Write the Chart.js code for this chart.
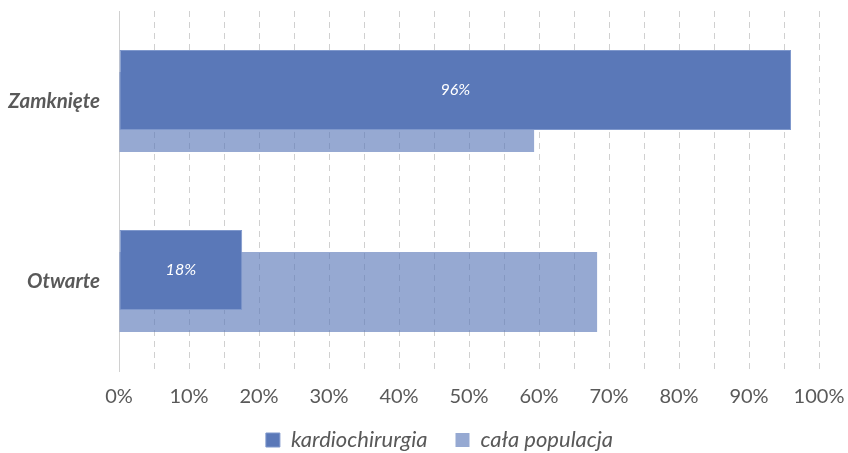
<!DOCTYPE html>
<html>
<head>
<meta charset="utf-8">
<script src="https://cdn.jsdelivr.net/npm/chart.js@4/dist/chart.umd.min.js"></script>
<style>
	html, body { margin: 0; padding: 0; background: #fff; }
	#wrap { width: 848px; height: 453px; }
</style>
</head>
<body>
<div id="wrap"><canvas id="chart" width="848" height="453"></canvas></div>
<script>
// dane
const categories = ['Zamknięte', 'Otwarte'];
const kardiochirurgia = [96, 17.6];
const calaPopulacja = [59.3, 68.3];
const seriesNames = ['kardiochirurgia', 'cała populacja'];
const tickLabels = ['0%', '10%', '20%', '30%', '40%', '50%', '60%', '70%', '80%', '90%', '100%'];

const grey = '#595959';

// etykiety w środku ciemnych słupków
const barLabels = {
	id: 'barLabels',
	afterDatasetsDraw(chart) {
		const ctx = chart.ctx;
		const meta = chart.getDatasetMeta(0);
		ctx.save();
		ctx.fillStyle = '#ffffff';
		ctx.font = 'italic 16px Lato';
		ctx.textAlign = 'center';
		ctx.textBaseline = 'middle';
		meta.data.forEach((bar, i) => {
			ctx.fillText(Math.round(kardiochirurgia[i]) + '%', (bar.x + bar.base) / 2, bar.y);
		});
		ctx.restore();
	}
};

// przesunięcie legendy (większy odstęp między pozycjami)
const legendShift = {
	id: 'legendShift',
	afterLayout(chart) {
		const lg = chart.legend;
		if (!lg) { return; }
		lg.left += 30; lg.right += 30;
		lg.top -= 10;
	}
};

new Chart(document.getElementById('chart'), {
	type: 'bar',
	data: {
		labels: categories,
		datasets: [
			{
				label: seriesNames[0],
				data: kardiochirurgia,
				backgroundColor: '#5A78B8',
				borderColor: '#7F98CC',
				borderWidth: 1,
				borderSkipped: false,
			},
			{
				label: seriesNames[1],
				data: calaPopulacja,
				backgroundColor: 'rgba(90,120,184,0.64)',
				borderWidth: 0,
			},
		],
	},
	options: {
		indexAxis: 'y',
		responsive: false,
		animation: false,
		categoryPercentage: 44 / 180,
		barPercentage: 80 / 22,
		layout: { padding: { top: 11, right: 29, left: 0, bottom: 0 } },
		scales: {
			x: {
				min: 0,
				max: 100,
				grid: { color: '#d0d0d0', lineWidth: 1, drawTicks: false },
				border: { display: false, dash: [6, 5] },
				ticks: {
					stepSize: 5,
					autoSkip: false,
					maxRotation: 0,
					padding: 14,
					color: grey,
					font: { family: 'Lato', size: 20 },
					callback: (v) => (v % 10 === 0 ? tickLabels[v / 10] : ''),
				},
				afterFit: (axis) => { axis.paddingLeft = 0; axis.paddingRight = 0; axis.height = 40; },
			},
			y: {
				grid: { display: false, drawTicks: false },
				border: { display: true, color: '#d0d0d0', width: 1 },
				ticks: {
					padding: 19,
					color: grey,
					font: { family: 'Lato', size: 20.5, style: 'italic', weight: 'bold' },
				},
				afterFit: (axis) => { axis.width = 119; axis.paddingTop = 0; axis.paddingBottom = 0; },
			},
		},
		plugins: {
			legend: {
				position: 'bottom',
				maxHeight: 42,
				labels: {
					boxWidth: 14,
					boxHeight: 14,
					padding: 28,
					color: grey,
					font: { family: 'Lato', size: 22, style: 'italic' },
				},
			},
			tooltip: { enabled: false },
		},
	},
	plugins: [barLabels, legendShift],
});
</script>
</body>
</html>
